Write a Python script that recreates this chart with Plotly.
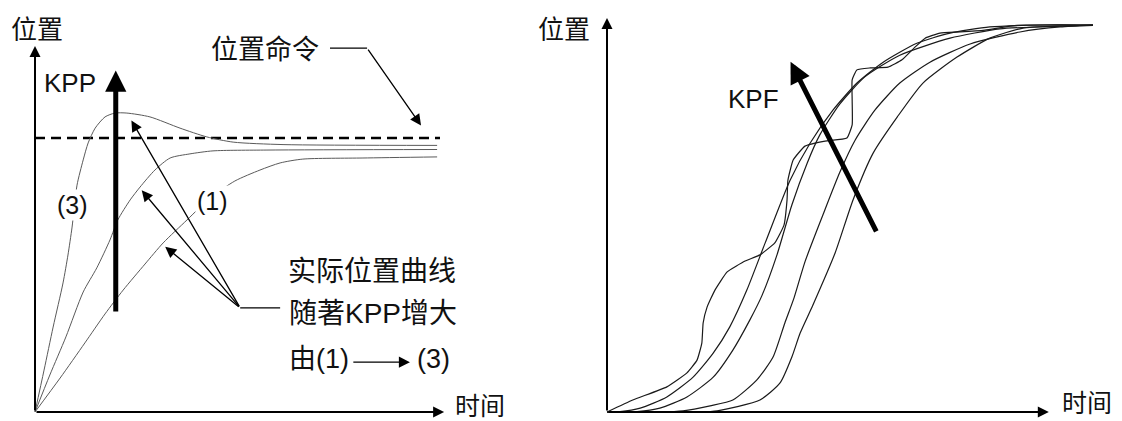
import plotly.graph_objects as go

# ---------------- Left panel: position response vs KPP ----------------
# curve (1): lowest KPP
t1 = [0, 6.1, 12.1, 17.0, 21.4, 26.7, 31.1, 36.9, 42.5, 48.5, 54.6, 59.5, 65.0, 79.6, 97.6]
p1 = [0, 12.4, 25.2, 35.8, 44.5, 54.0, 61.7, 70.1, 78.1, 84.3, 88.3, 90.9, 92.3, 92.7, 93.1]
# curve (2): medium KPP
t2 = [0, 3.6, 7.5, 11.7, 15.0, 18.2, 20.1, 23.1, 25.5, 29.1, 32.8, 37.6, 43.2, 56.3, 97.6]
p2 = [0, 13.5, 27.4, 43.8, 52.6, 62.8, 70.1, 77.4, 82.1, 88.3, 92.7, 94.2, 95.3, 95.6, 95.8]
# curve (3): highest KPP (overshoot)
t3 = [0, 2.2, 4.4, 6.8, 8.0, 9.0, 10.2, 11.7, 12.9, 14.6, 17.0, 19.4, 22.3, 27.9, 35.2, 41.7, 48.1, 60.2, 97.6]
p3 = [0, 15.3, 31.0, 47.1, 57.3, 67.5, 82.8, 92.0, 98.2, 103.6, 107.7, 109.1, 109.1, 107.7, 103.6, 100.4, 98.5, 97.6, 97.3]
# position command
t_cmd = [0, 98.3]
p_cmd = [100, 100]

# ---------------- Right panel: position response vs KPF ----------------
ta = [0, 3.0, 7.6, 13.7, 19.7, 24.3, 28.1, 32.0, 36.2, 41.9, 46.5, 51.7, 57.2, 63.2, 70.9, 78.5, 87.6, 99.1, 111.2]
pa = [0, 0.1, 1.0, 3.9, 9.0, 15.2, 22.0, 31.5, 43.7, 59.9, 69.5, 78.0, 85.0, 90.4, 95.3, 97.9, 99.5, 100, 100]
tb = [0, 6.9, 12.1, 18.3, 24.3, 28.8, 32.7, 35.5, 38.9, 42.3, 45.8, 48.7, 53.3, 59.0, 67.0, 78.5, 89.9, 103.7, 111.2]
pb = [0, 0.1, 1.0, 3.9, 9.0, 16.0, 23.8, 30.2, 40.6, 53.5, 64.3, 71.6, 79.6, 86.6, 92.2, 96.6, 99.0, 99.7, 100]
tc = [0, 12.1, 17.4, 23.6, 28.8, 34.3, 38.0, 40.7, 42.8, 45.3, 49.4, 53.3, 56.8, 61.3, 67.0, 73.9, 83.1, 94.5, 103.7, 111.2]
pc = [0, 0, 0.3, 1.6, 3.1, 8.3, 14.2, 23.0, 29.5, 38.8, 50.9, 62.0, 70.3, 78.0, 85.0, 90.4, 95.1, 98.2, 99.5, 99.9]
td = [0, 21.3, 25.2, 35.0, 39.6, 42.3, 44.2, 47.1, 52.2, 56.3, 60.9, 66.4, 72.3, 80.1, 87.6, 95.2, 103.0, 111.2]
pd_ = [0, 0, 0.3, 3.1, 7.5, 14.2, 20.4, 27.6, 41.1, 54.8, 66.9, 76.2, 85.0, 91.7, 96.6, 99.2, 99.7, 100]
tw = [0, 5.9, 13.7, 18.3, 20.6, 21.7, 22.0, 22.9, 24.7, 27.5, 31.6, 35.0, 38.4, 40.5, 41.2, 41.4, 42.6, 45.3,
      49.9, 54.9, 56.1, 56.1, 56.1, 57.2, 60.2, 64.3, 67.5, 70.3, 72.8, 76.2, 80.8, 86.5, 93.8, 111.2]
pw = [0, 3.1, 6.5, 10.1, 13.4, 17.8, 23.0, 27.1, 31.5, 36.2, 39.0, 40.6, 43.7, 48.3, 54.8, 59.9, 65.1, 68.7,
      70.0, 70.8, 74.2, 80.6, 85.8, 88.4, 88.9, 89.1, 91.0, 94.1, 96.6, 97.9, 98.2, 98.7, 99.9, 100]

CJK = "Noto Sans CJK SC"
MIX = "Liberation Sans, Arial, Noto Sans CJK SC"
INK = "#111111"

fig = go.Figure()

def curve(x, y, ax, color, width, dash="solid", shape="spline", smoothing=0.5):
    fig.add_trace(go.Scatter(
        x=x, y=y, mode="lines", xaxis=ax[0], yaxis=ax[1], hoverinfo="skip",
        line=dict(color=color, width=width, dash=dash, shape=shape, smoothing=smoothing)))

L = ("x", "y")
R = ("x2", "y2")
curve(t_cmd, p_cmd, L, "#000000", 2.6, dash="10px,6px", shape="linear")
for tx, py in [(t1, p1), (t2, p2), (t3, p3)]:
    curve(tx, py, L, "#5a5a5a", 1, smoothing=0.7)
for tx, py in [(ta, pa), (tb, pb), (tc, pc), (td, pd_)]:
    curve(tx, py, R, "#1a1a1a", 1.2, smoothing=0.6)
curve(tw, pw, R, "#1a1a1a", 1.2, smoothing=0.4)

ann = []

def arrow(x, y, ax_, ay_, xr, yr, width=1.3, size=1.7, color="#000000"):
    ann.append(dict(x=x, y=y, ax=ax_, ay=ay_, xref=xr, yref=yr, axref=xr, ayref=yr,
                    text="", showarrow=True, arrowhead=2, arrowsize=size,
                    arrowwidth=width, arrowcolor=color, standoff=0))

def label(x, y, text, xr, yr, size, family=MIX, xanchor="center", bg=None):
    d = dict(x=x, y=y, xref=xr, yref=yr, text=text, showarrow=False,
             xanchor=xanchor, yanchor="middle",
             font=dict(family=family, size=size, color=INK))
    if bg:
        d["bgcolor"] = bg
    ann.append(d)

# left axes
arrow(0, 133.6, 0, 0, "x", "y", width=2, size=1.1)
arrow(99.3, 0, 0, 0, "x", "y", width=2, size=1.1)
# right axes
arrow(0, 101.8, 0, 0, "x2", "y2", width=2, size=1.1)
arrow(101.1, 0, 0, 0, "x2", "y2", width=2, size=1.1)

# KPP thick arrow
arrow(19.6, 124.6, 19.6, 36.1, "x", "y", width=5, size=0.85)
# KPF thick arrow
arrow(42.0, 90.5, 61.8, 46.3, "x2", "y2", width=5, size=0.85)

# position command leader
arrow(93.7, 104.6, 80.6, 132.8, "x", "y")
# actual curve leaders
arrow(23.4, 106.4, 49.8, 38.0, "x", "y")
arrow(25.9, 80.9, 49.8, 38.0, "x", "y")
arrow(31.6, 60.3, 49.8, 38.0, "x", "y")
# (1) -> (3)
arrow(91.0, 18.2, 76.9, 18.2, "x", "y")

W, H = 1122, 421
OFF = 8  # page body margin that offsets the figure in the window

# texts
label(0.5, 140.5, "位置", "x", "y", 26, family=CJK)
label(108.0, 3.0, "时间", "x", "y", 25, family=CJK)
label((564 - OFF) / W, 1 - (27 - OFF) / H, "位置", "paper", "paper", 26, family=CJK)
label(109.8, 2.9, "时间", "x2", "y2", 25, family=CJK)
label(55.8, 133.2, "位置命令", "x", "y", 27, family=CJK)
label(8.5, 120.1, "KPP", "x", "y", 26)
label(33.6, 80.9, "KPF", "x2", "y2", 26)
label(9.0, 75.5, "(3)", "x", "y", 25, bg="white")
label(43.2, 77.0, "(1)", "x", "y", 25, bg="white")
label(61.0, 51.1, "实际位置曲线", "x", "y", 28, xanchor="left")
label(61.2, 36.1, "随著KPP增大", "x", "y", 28, xanchor="left")
label(61.2, 19.3, "由(1)", "x", "y", 27, xanchor="left")
label(92.2, 19.3, "(3)", "x", "y", 27, xanchor="left")

shapes = [
    dict(type="line", xref="x", yref="y", x0=71.6, x1=80.6, y0=132.8, y1=132.8,
         line=dict(color="#000000", width=1.3)),
    dict(type="line", xref="x", yref="y", x0=49.8, x1=59.5, y0=38.0, y1=38.0,
         line=dict(color="#000000", width=1.3)),
]

# window-pixel anchors for scaling (layout only)
lx0, lsx, ly0, lsy = 35, 4.12, 412, 2.74
rx0, rsx, ry0, rsy = 607, 4.37, 412, 3.87
half = W / 2

def ax_common():
    return dict(visible=False, showgrid=False, zeroline=False, fixedrange=True)

fig.update_layout(
    width=W, height=H, autosize=False,
    margin=dict(l=0, r=0, t=0, b=0, pad=0),
    paper_bgcolor="white", plot_bgcolor="white",
    showlegend=False,
    xaxis=dict(domain=[0, 0.5], range=[(OFF - lx0) / lsx, (half + OFF - lx0) / lsx], anchor="y", **ax_common()),
    yaxis=dict(domain=[0, 1], range=[(ly0 - H - OFF) / lsy, (ly0 - OFF) / lsy], anchor="x", **ax_common()),
    xaxis2=dict(domain=[0.5, 1], range=[(half + OFF - rx0) / rsx, (W + OFF - rx0) / rsx], anchor="y2", **ax_common()),
    yaxis2=dict(domain=[0, 1], range=[(ry0 - H - OFF) / rsy, (ry0 - OFF) / rsy], anchor="x2", **ax_common()),
    annotations=ann,
    shapes=shapes,
)

fig.write_html("out.html")
